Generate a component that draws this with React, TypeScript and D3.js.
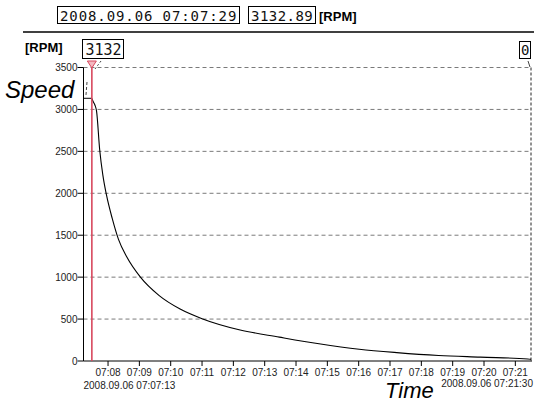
import React from "react";
import * as d3 from "d3";

const DAY = "2008.09.06";
const startTime = "07:07:13";
const endTime = "07:21:30";
const cursorTime = "07:07:29";
const cursorValue = 3132.89;
const endValue = 0;

const sampleTimes = [
  "07:07:29", "07:07:31", "07:07:35", "07:07:38", "07:07:44", "07:07:50",
  "07:07:57", "07:08:08", "07:08:20", "07:08:36", "07:09:02", "07:09:38",
  "07:10:18", "07:11:00", "07:12:13", "07:13:28", "07:14:44", "07:16:01",
  "07:17:13", "07:18:33", "07:19:53", "07:21:24", "07:21:30",
];
const rpmValues = [
  3132, 3100, 3050, 2980, 2520, 2220, 1980, 1700, 1450, 1240, 1000, 780,
  620, 505, 370, 285, 205, 140, 100, 66, 46, 24, 20,
];
const yTicks = [0, 500, 1000, 1500, 2000, 2500, 3000, 3500];

const parse = d3.timeParse("%Y.%m.%d %H:%M:%S");
const T = (s: string) => parse(`${DAY} ${s}`) as Date;

const FONT = "'Liberation Sans', Arial, sans-serif";
const MONO = "'DejaVu Sans Mono', monospace";
const RED = "#d8485e";

export default function App() {
  const x = d3.scaleTime().domain([T(startTime), T(endTime)]).range([83.5, 531]);
  const y = d3.scaleLinear().domain([0, 3500]).range([361, 67.5]);
  const data = sampleTimes.map((t, i) => ({ t: T(t), v: rpmValues[i] }));
  const line = d3
    .line<{ t: Date; v: number }>()
    .x((d) => x(d.t))
    .y((d) => y(d.v))
    .curve(d3.curveMonotoneX);
  const xTicks = d3.timeMinute.every(1)!.range(T("07:08:00"), T("07:21:30"));
  const fmt = d3.timeFormat("%H:%M");
  const cx = x(T(cursorTime));
  const x0 = x.range()[0];
  const x1 = x.range()[1];

  return (
    <svg
      width={534}
      height={404}
      style={{ position: "absolute", left: 0, top: 0, background: "#fff" }}
    >
      {/* header */}
      <rect x={57.5} y={6.5} width={182} height={17} fill="none" stroke="#000" strokeWidth={1} />
      <text x={60} y={20.5} fontFamily={MONO} fontSize={14} letterSpacing={0.9} fill="#111">
        {`${DAY} ${cursorTime}`}
      </text>
      <rect x={248.5} y={6.5} width={67} height={17} fill="none" stroke="#000" strokeWidth={1} />
      <text x={251} y={20.5} fontFamily={MONO} fontSize={14} letterSpacing={0.45} fill="#111">
        {cursorValue.toFixed(2)}
      </text>
      <text x={319} y={21} fontFamily={FONT} fontSize={13} fontWeight="bold" fill="#000">
        [RPM]
      </text>
      <line x1={23} x2={534} y1={32} y2={32} stroke="#000" strokeWidth={1.6} />

      {/* unit label */}
      <text x={25} y={52} fontFamily={FONT} fontSize={13} fontWeight="bold" fill="#000">
        [RPM]
      </text>
      <text x={5} y={98} fontFamily={FONT} fontSize={24} fontStyle="italic" fill="#000">
        Speed
      </text>

      {/* grid */}
      {yTicks
        .filter((v) => v > 0)
        .map((v) => (
          <line
            key={v}
            x1={x0}
            x2={x1}
            y1={y(v)}
            y2={y(v)}
            stroke="#7a7a7a"
            strokeWidth={1}
            strokeDasharray="4,3"
          />
        ))}
      {/* right dashed cursor */}
      <line x1={x1} x2={x1} y1={y(3500)} y2={y(0)} stroke="#222" strokeWidth={1} strokeDasharray="3,2" />

      {/* y axis */}
      <line x1={x0} x2={x0} y1={y(3500)} y2={y(0)} stroke="#000" strokeWidth={1} />
      {yTicks.map((v) => (
        <g key={v}>
          <line x1={x0 - 6} x2={x0} y1={y(v)} y2={y(v)} stroke="#000" strokeWidth={1} />
          <text
            x={x0 - 6}
            y={y(v) + 3.5}
            textAnchor="end"
            fontFamily={FONT}
            fontSize={10}
            fill="#222"
          >
            {v}
          </text>
        </g>
      ))}

      {/* x axis */}
      <line x1={x0} x2={x1 + 1} y1={y(0)} y2={y(0)} stroke="#000" strokeWidth={1} />
      {xTicks.map((t) => (
        <g key={+t}>
          <line x1={x(t)} x2={x(t)} y1={y(0)} y2={y(0) + 5} stroke="#000" strokeWidth={1} />
          <text
            x={x(t)}
            y={376}
            textAnchor="middle"
            fontFamily={FONT}
            fontSize={10}
            fill="#222"
          >
            {fmt(t)}
          </text>
        </g>
      ))}
      <text x={x0} y={389} fontFamily={FONT} fontSize={10} fill="#222">
        {`${DAY} ${startTime}`}
      </text>
      <text x={533} y={387} textAnchor="end" fontFamily={FONT} fontSize={10} fill="#222">
        {`${DAY} ${endTime}`}
      </text>
      <text x={385} y={398} fontFamily={FONT} fontSize={22} fontStyle="italic" fill="#000">
        Time
      </text>

      {/* cursor marker bits */}
      <line x1={x0} x2={cx} y1={y(cursorValue)} y2={y(cursorValue)} stroke="#000" strokeWidth={1} />
      <line x1={87} x2={86} y1={82} y2={95} stroke="#444" strokeWidth={1} strokeDasharray="3,2" />

      {/* curve */}
      <path d={line(data) ?? ""} fill="none" stroke="#000" strokeWidth={1.1} />

      {/* red cursor */}
      <line x1={cx} x2={cx} y1={62} y2={y(0)} stroke={RED} strokeWidth={1.6} />
      <path
        d={`M${cx - 4.5},${61} L${cx + 4.5},${61} L${cx},${68} Z`}
        fill="#f3b8c0"
        stroke={RED}
        strokeWidth={1}
      />
      <rect x={82.5} y={39.5} width={41} height={19} fill="#fff" stroke="#000" strokeWidth={1} />
      <text x={85.5} y={55} fontFamily={MONO} fontSize={15} fill="#111">
        {Math.floor(cursorValue)}
      </text>
      <line x1={101} x2={95} y1={61} y2={69} stroke="#444" strokeWidth={1} strokeDasharray="2,2" />

      {/* end value box */}
      <rect x={519.5} y={41.5} width={11} height={17} fill="#fff" stroke="#000" strokeWidth={1} />
      <text x={521} y={55} fontFamily={MONO} fontSize={14} fill="#111">
        {endValue}
      </text>
      <line x1={528} x2={530} y1={61} y2={67} stroke="#444" strokeWidth={1} />
    </svg>
  );
}
